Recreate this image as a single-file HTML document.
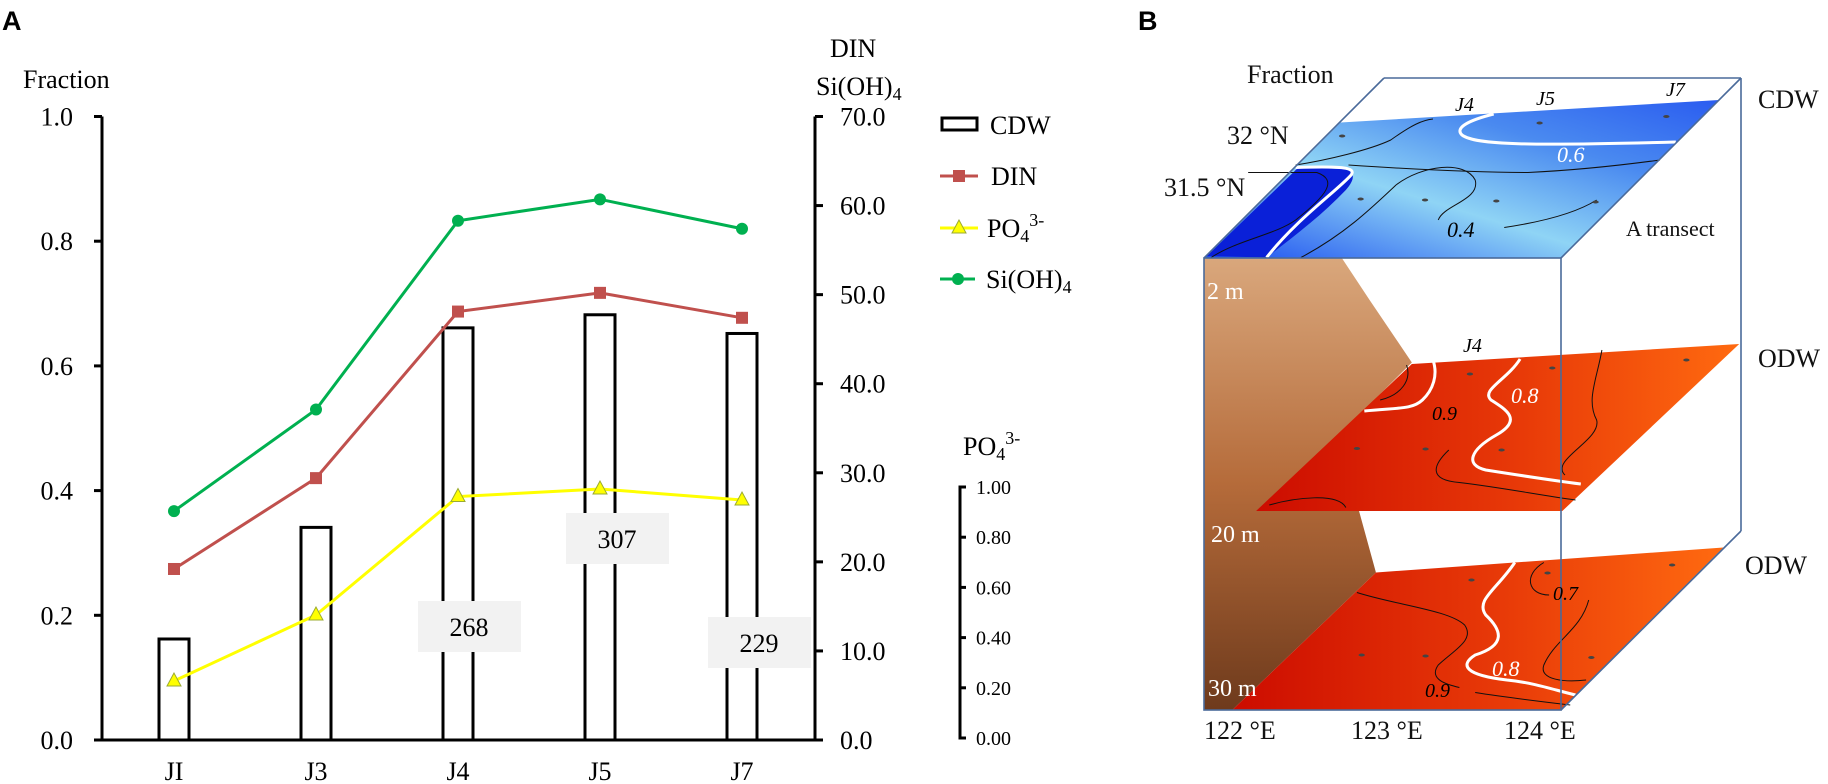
<!DOCTYPE html>
<html><head><meta charset="utf-8"><style>
html,body{margin:0;padding:0;background:#fff;}
svg{display:block;font-family:"Liberation Serif",serif;}
</style></head><body>
<svg width="1828" height="784" viewBox="0 0 1828 784" xmlns="http://www.w3.org/2000/svg">
<defs>
<linearGradient id="brown" x1="0" y1="0" x2="0" y2="1"><stop offset="0" stop-color="#d9a77c"/><stop offset="0.5" stop-color="#b56b3a"/><stop offset="1" stop-color="#6e3a1c"/></linearGradient>
<linearGradient id="red" x1="0" y1="0" x2="1" y2="0"><stop offset="0" stop-color="#cc0c00"/><stop offset="0.55" stop-color="#e83a08"/><stop offset="1" stop-color="#ff6a10"/></linearGradient>
<linearGradient id="blue" x1="0" y1="1" x2="1" y2="0"><stop offset="0" stop-color="#1a4cf0"/><stop offset="0.4" stop-color="#8fd4f5"/><stop offset="0.7" stop-color="#4a8af0"/><stop offset="1" stop-color="#2a5cf0"/></linearGradient>
</defs>
<text x="2" y="30" font-family="Liberation Sans" font-weight="bold" font-size="27">A</text>
<text x="1138" y="30" font-family="Liberation Sans" font-weight="bold" font-size="27">B</text>
<g id="chartA"></g>
<g id="panelB">
 <g transform="translate(1000,0) scale(0.528,0.5)">
  <polygon points="387,517 645,245 1362,200 1062,517" fill="url(#blue)"/>
  <path d="M392,512 L565,335 L650,338 C675,342 672,360 655,380 C610,430 560,470 505,515 Z" fill="#0a20d8"/>
  <path d="M935,228 C890,240 860,255 875,270 C900,290 1000,292 1280,284" stroke="#fff" stroke-width="3" fill="none" vector-effect="non-scaling-stroke"/>
  <path d="M505,515 C560,440 640,380 665,350 C675,335 650,332 560,335" stroke="#fff" stroke-width="3" fill="none" vector-effect="non-scaling-stroke"/>
  <g stroke="#111" stroke-width="1" fill="none">
   <path d="M560,330 C620,320 700,300 740,280 C780,250 800,240 820,238" vector-effect="non-scaling-stroke"/>
   <path d="M400,515 C450,480 520,470 560,440 C620,390 640,360 600,345 L470,345" vector-effect="non-scaling-stroke"/>
   <path d="M570,515 C650,470 700,420 750,370 C800,330 880,320 900,360 C910,400 840,410 830,440" vector-effect="non-scaling-stroke"/>
   <path d="M955,455 C1050,440 1100,420 1130,400" vector-effect="non-scaling-stroke"/>
   <path d="M660,330 C800,340 900,345 1000,345 C1100,340 1180,330 1250,320" vector-effect="non-scaling-stroke"/>
  </g>
  <polygon points="387,517 648,517 700,600 780,725 680,830 680,1022 712,1145 440,1420 387,1420" fill="url(#brown)"/>
  <polygon points="780,728 1400,688 1065,1022 485,1022" fill="url(#red)"/>
  <path d="M690,822 C750,815 780,820 800,800 C820,780 830,750 820,720" stroke="#fff" stroke-width="3" fill="none" vector-effect="non-scaling-stroke"/>
  <path d="M985,718 C960,760 910,780 930,800 C960,820 990,840 940,870 C890,900 880,930 920,940 C980,950 1040,960 1100,968" stroke="#fff" stroke-width="3" fill="none" vector-effect="non-scaling-stroke"/>
  <g stroke="#111" fill="none">
   <path d="M720,800 C760,790 780,760 770,730" vector-effect="non-scaling-stroke"/>
   <path d="M850,900 C820,930 810,960 870,965 C950,975 1020,990 1090,1000" vector-effect="non-scaling-stroke"/>
   <path d="M1140,700 C1130,760 1110,800 1130,840 C1140,880 1040,920 1070,950" vector-effect="non-scaling-stroke"/>
   <path d="M510,1010 C560,995 640,985 655,1015" vector-effect="non-scaling-stroke"/>
  </g>
  <polygon points="712,1145 1370,1095 1062,1420 440,1420" fill="url(#red)"/>
  <path d="M975,1125 C940,1180 900,1200 920,1230 C950,1260 960,1290 900,1310 C870,1330 880,1350 960,1360 C1010,1365 1050,1380 1090,1390" stroke="#fff" stroke-width="3" fill="none" vector-effect="non-scaling-stroke"/>
  <g stroke="#111" fill="none">
   <path d="M676,1185 C750,1210 850,1220 880,1250 C900,1280 860,1300 830,1330 C810,1360 850,1370 870,1375" vector-effect="non-scaling-stroke"/>
   <path d="M1030,1125 C990,1150 1000,1190 1040,1190" vector-effect="non-scaling-stroke"/>
   <path d="M1115,1200 C1100,1260 1050,1280 1030,1330 C1020,1360 1070,1365 1110,1360" vector-effect="non-scaling-stroke"/>
   <path d="M900,1385 C960,1395 1040,1405 1080,1410" vector-effect="non-scaling-stroke"/>
  </g>
  <g fill="#444">
   <ellipse cx="648" cy="272" rx="6" ry="3"/><ellipse cx="1022" cy="246" rx="6" ry="3"/><ellipse cx="1262" cy="233" rx="6" ry="3"/>
   <ellipse cx="683" cy="398" rx="6" ry="3"/><ellipse cx="805" cy="400" rx="6" ry="3"/><ellipse cx="940" cy="402" rx="6" ry="3"/><ellipse cx="1128" cy="404" rx="6" ry="3"/>
   <ellipse cx="890" cy="748" rx="6" ry="3"/><ellipse cx="1046" cy="736" rx="6" ry="3"/><ellipse cx="1300" cy="720" rx="6" ry="3"/>
   <ellipse cx="676" cy="897" rx="6" ry="3"/><ellipse cx="806" cy="898" rx="6" ry="3"/><ellipse cx="950" cy="900" rx="6" ry="3"/>
   <ellipse cx="893" cy="1160" rx="6" ry="3"/><ellipse cx="1037" cy="1146" rx="6" ry="3"/><ellipse cx="1273" cy="1130" rx="6" ry="3"/>
   <ellipse cx="685" cy="1310" rx="6" ry="3"/><ellipse cx="806" cy="1312" rx="6" ry="3"/><ellipse cx="1120" cy="1315" rx="6" ry="3"/>
  </g>
 </g>
 <g stroke="#4a6a9a" stroke-width="1.6" fill="none">
  <rect x="1204" y="258" width="357" height="452"/>
  <line x1="1204" y1="258" x2="1384" y2="78"/><line x1="1384" y1="78" x2="1741" y2="78"/>
  <line x1="1561" y1="258" x2="1741" y2="78"/><line x1="1741" y1="78" x2="1741" y2="531"/>
  <line x1="1561" y1="710" x2="1741" y2="531"/>
 </g>
 <g font-size="26" fill="#111">
  <text x="1247" y="83">Fraction</text>
  <text x="1227" y="144">32 °N</text>
  <text x="1164" y="196">31.5 °N</text>
  <text x="1758" y="108">CDW</text>
  <text x="1758" y="367">ODW</text>
  <text x="1745" y="574">ODW</text>
  <text x="1626" y="236" font-size="22">A transect</text>
  <text x="1204" y="739">122 °E</text>
  <text x="1351" y="739">123 °E</text>
  <text x="1504" y="739">124 °E</text>
 </g>
 <g font-size="24" fill="#fff">
  <text x="1207" y="299">2 m</text>
  <text x="1211" y="542">20 m</text>
  <text x="1208" y="696">30 m</text>
 </g>
 <g font-size="20" font-style="italic">
  <text x="1455" y="111">J4</text>
  <text x="1536" y="105">J5</text>
  <text x="1666" y="96">J7</text>
  <text x="1463" y="352">J4</text>
  <text x="1557" y="162" fill="#fff" font-size="22">0.6</text>
  <text x="1447" y="237" font-size="22">0.4</text>
  <text x="1511" y="403" fill="#fff" font-size="22">0.8</text>
  <text x="1432" y="420" font-size="20">0.9</text>
  <text x="1553" y="600" font-size="20">0.7</text>
  <text x="1492" y="676" fill="#fff" font-size="22">0.8</text>
  <text x="1425" y="697" font-size="20">0.9</text>
 </g>
</g>
<script>
const categories = ["JI","J3","J4","J5","J7"];
const cdwFraction = [0.162,0.341,0.661,0.682,0.652];
const dinValues = [19.2,29.4,48.1,50.2,47.4];
const siValues = [25.7,37.1,58.3,60.7,57.4];
const po4Values = [0.227,0.49,0.962,0.992,0.948];
const leftTicks = ["0.0","0.2","0.4","0.6","0.8","1.0"];
const rightTicks = ["0.0","10.0","20.0","30.0","40.0","50.0","60.0","70.0"];
const po4Ticks = ["0.00","0.20","0.40","0.60","0.80","1.00"];
const boxLabels = ["268","307","229"];
const boxCats = [2,3,4];

const NS="http://www.w3.org/2000/svg";
const g=document.getElementById('chartA');
function mk(tag,attrs,parent){const e=document.createElementNS(NS,tag);for(const k in attrs)e.setAttribute(k,attrs[k]);(parent||g).appendChild(e);return e;}
const x0=102,x1=815,yB=740,yT=116.5;
const xCat=i=>174+i*142;
const yL=v=>yB-(v/1.0)*(yB-yT);
const yR=v=>yB-(v/70)*(yB-yT);
const yP=v=>738-v*251;

cdwFraction.forEach((v,i)=>{
 const r=mk('rect',{x:xCat(i)-15,y:yL(v),width:30,height:yB-yL(v),fill:'#fff',stroke:'#000','stroke-width':3});
 
 
});
boxLabels.forEach((t,k)=>{
 const i=boxCats[k];
 const yy=[626,538,642][k];
 const r=mk('rect',{x:xCat(i)-40+[0,6,6][k],y:yy-25,width:103,height:51,fill:'#f2f2f2'});
 
 
 const tx=mk('text',{x:xCat(i)+11+[0,6,6][k],y:yy+10,'font-size':26,'text-anchor':'middle'});
 tx.textContent=t;
 
 
});
mk('line',{x1:x0,y1:yT,x2:x0,y2:yB+1,stroke:'#000','stroke-width':3});
mk('line',{x1:x1,y1:yT,x2:x1,y2:yB+1,stroke:'#000','stroke-width':3});
mk('line',{x1:94,y1:yB,x2:x1,y2:yB,stroke:'#000','stroke-width':3});
leftTicks.forEach(t=>{
 const y=yL(parseFloat(t));
 mk('line',{x1:94,y1:y,x2:x0,y2:y,stroke:'#000','stroke-width':3});
 const tx=mk('text',{x:73,y:y+9,'font-size':26,'text-anchor':'end'});
 tx.textContent=t;
 
 
});
rightTicks.forEach(t=>{
 const y=yR(parseFloat(t));
 mk('line',{x1:x1,y1:y,x2:x1+8,y2:y,stroke:'#000','stroke-width':3});
 const tx=mk('text',{x:840,y:y+9,'font-size':26});
 tx.textContent=t;
 
 
});
categories.forEach((c,i)=>{
 const tx=mk('text',{x:xCat(i),y:780,'font-size':26,'text-anchor':'middle'});
 tx.textContent=c;
 
 
});
mk('path',{d:'M966,487 L960,487 L960,738 L966,738',stroke:'#000','stroke-width':3,fill:'none'});
po4Ticks.forEach(t=>{
 const y=yP(parseFloat(t));
 mk('line',{x1:960,y1:y,x2:966,y2:y,stroke:'#000','stroke-width':3});
 const tx=mk('text',{x:976,y:y+7,'font-size':20});
 tx.textContent=t;
 
 
});
function series(vals,yf,color,name,marker){
 const pts=vals.map((v,i)=>xCat(i)+','+yf(v)).join(' ');
 const pl=mk('polyline',{points:pts,fill:'none',stroke:color,'stroke-width':3});
 
 
 vals.forEach((v,i)=>{
  const x=xCat(i),y=yf(v);let m;
  if(marker==='sq')m=mk('rect',{x:x-6,y:y-6,width:12,height:12,fill:color});
  else if(marker==='ci')m=mk('circle',{cx:x,cy:y,r:6,fill:color});
  else m=mk('polygon',{points:`${x},${y-8} ${x-7},${y+5} ${x+7},${y+5}`,fill:'#ffff00',stroke:'#9bab30','stroke-width':1});
  
  
 });
}
series(siValues,yR,'#00b050','si','ci');
series(dinValues,yR,'#c0504d','din','sq');
series(po4Values,yP,'#ffff00','po4','tri');
</script>
<g font-size="26">
 <text x="23" y="88">Fraction</text>
 <text x="830" y="57">DIN</text>
 <text x="816" y="95">Si(OH)<tspan font-size="18" dy="5">4</tspan></text>
 <text x="963" y="455">PO<tspan font-size="18" dy="5">4</tspan><tspan font-size="18" dy="-16">3-</tspan></text>
</g>
<g>
 <rect x="942" y="118" width="35" height="12" fill="#fff" stroke="#000" stroke-width="3"/>
 <text x="990" y="134" font-size="26">CDW</text>
 <line x1="940" y1="176" x2="978" y2="176" stroke="#c0504d" stroke-width="3"/>
 <rect x="953" y="170" width="12" height="12" fill="#c0504d"/>
 <text x="991" y="185" font-size="26">DIN</text>
 <line x1="940" y1="228" x2="978" y2="228" stroke="#ffff00" stroke-width="3"/>
 <polygon points="959,220 952,233 966,233" fill="#ffff00" stroke="#9bab30"/>
 <text x="987" y="237" font-size="26">PO<tspan font-size="18" dy="5">4</tspan><tspan font-size="18" dy="-16">3-</tspan></text>
 <line x1="940" y1="279" x2="975" y2="279" stroke="#00b050" stroke-width="3"/>
 <circle cx="958" cy="279" r="6" fill="#00b050"/>
 <text x="986" y="288" font-size="26">Si(OH)<tspan font-size="18" dy="5">4</tspan></text>
</g>
</svg>
</body></html>
